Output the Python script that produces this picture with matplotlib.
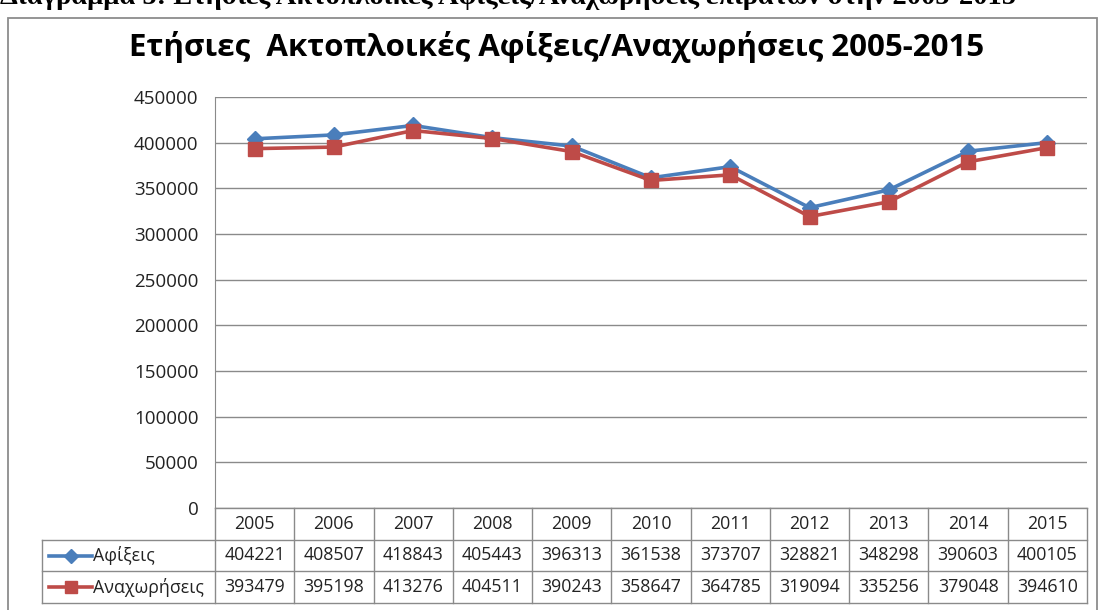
import matplotlib
matplotlib.use("Agg")
import matplotlib.pyplot as plt
from matplotlib.patches import Rectangle

years = ["2005", "2006", "2007", "2008", "2009", "2010",
         "2011", "2012", "2013", "2014", "2015"]
arrivals = [404221, 408507, 418843, 405443, 396313, 361538,
            373707, 328821, 348298, 390603, 400105]
departures = [393479, 395198, 413276, 404511, 390243, 358647,
              364785, 319094, 335256, 379048, 394610]
series_names = ["Αφίξεις", "Αναχωρήσεις"]
title = "Ετήσιες  Ακτοπλοικές Αφίξεις/Αναχωρήσεις 2005-2015"
caption = "Διάγραμμα 5: Ετήσιες Ακτοπλοϊκές Αφίξεις/Αναχωρήσεις επιβατών στην 2005-2015"

plt.rcParams["font.family"] = ["Open Sans", "DejaVu Sans"]

W, H = 1099, 610
blue = "#4A7EBB"
red = "#BE4B48"
grid_c = "#8A8A8A"
txt_c = "#222222"

fig = plt.figure(figsize=(W / 100, H / 100), dpi=100)


def box(l, t, r, b):
    # pixel box -> figure fraction [left, bottom, width, height]
    return [l / W, 1 - b / H, (r - l) / W, (b - t) / H]


# outer chart frame
fig.add_artist(Rectangle((8 / W, -0.01), (1097 - 8) / W, 1 - 18 / H + 0.01,
                         transform=fig.transFigure, fill=False,
                         edgecolor="#8C8C8C", lw=1.3))

# document caption above the chart, cut by the top edge as in the source
fig.text(0, 1 - 4 / H, caption, fontsize=20.5, family="Liberation Serif",
         fontweight="bold", ha="left", va="baseline", color="black")

fig.text(557 / W, 1 - 47 / H, title, fontsize=22.5, fontweight="bold",
         ha="center", va="center", color="black")

x = list(range(len(years)))
ax = fig.add_axes(box(215, 97, 1087, 508))
ax.plot(x, arrivals, color=blue, lw=2.6, marker="D", ms=8.5,
        markeredgecolor=blue, zorder=3)
ax.plot(x, departures, color=red, lw=2.6, marker="s", ms=10,
        markeredgecolor=red, zorder=4)
ax.set_xlim(-0.5, len(years) - 0.5)
ax.set_ylim(0, 450000)
ax.set_yticks(range(0, 450001, 50000))
ax.set_yticklabels([str(v) for v in range(0, 450001, 50000)])
ax.set_xticks([])
ax.tick_params(axis="y", length=0, pad=12, labelsize=13.5, labelcolor=txt_c)
ax.grid(axis="y", color=grid_c, lw=1)
ax.set_axisbelow(True)
for s in ["top", "right", "bottom"]:
    ax.spines[s].set_visible(False)
ax.spines["left"].set_color(grid_c)

# data table under the plot, sharing the column scale
px_unit = (1087 - 215) / len(years)
x_left = -0.5 - (215 - 42) / px_unit
tab = fig.add_axes(box(42, 508, 1087, 603))
tab.set_xlim(x_left, len(years) - 0.5)
tab.set_ylim(3, 0)
tab.axis("off")

edges = [i - 0.5 for i in range(len(years) + 1)]
for e in edges:
    tab.plot([e, e], [0, 3], color=grid_c, lw=1, clip_on=False)
tab.plot([x_left, x_left], [1, 3], color=grid_c, lw=1, clip_on=False)
tab.plot([-0.5, len(years) - 0.5], [0, 0], color=grid_c, lw=1, clip_on=False)
for r in [1, 2, 3]:
    tab.plot([x_left, len(years) - 0.5], [r, r], color=grid_c, lw=1, clip_on=False)

for i, yr in enumerate(years):
    tab.text(i, 0.5, yr, ha="center", va="center", fontsize=12.8, color=txt_c)
for row, vals in enumerate([arrivals, departures], start=1):
    for i, v in enumerate(vals):
        tab.text(i, row + 0.5, str(v), ha="center", va="center",
                 fontsize=12.8, color=txt_c)

styles = [(blue, "D", 7), (red, "s", 9)]
k0 = x_left + 7 / px_unit
k1 = x_left + 50 / px_unit
for row, (name, (c, m, ms)) in enumerate(zip(series_names, styles), start=1):
    tab.plot([k0, k1], [row + 0.5, row + 0.5], color=c, lw=2.6, clip_on=False)
    tab.plot([(k0 + k1) / 2], [row + 0.5], marker=m, ms=ms, color=c, clip_on=False)
    tab.text(k1 + 1 / px_unit, row + 0.5, name, ha="left", va="center",
             fontsize=12.8, color=txt_c)

fig.savefig("out.png", dpi=100)
